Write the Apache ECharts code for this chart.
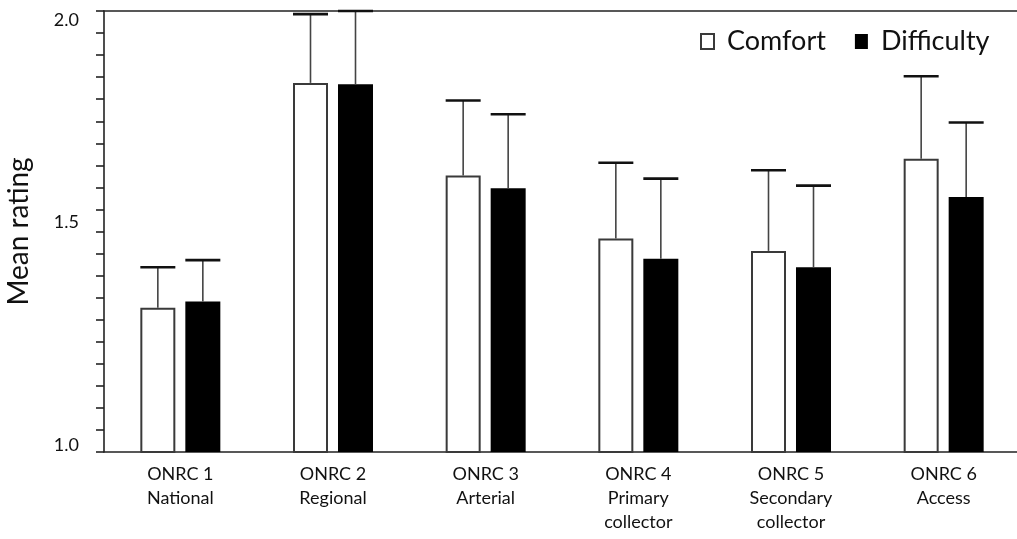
<!DOCTYPE html>
<html>
<head>
<meta charset="utf-8">
<title>Mean rating by ONRC class</title>
<script src="https://cdn.jsdelivr.net/npm/echarts@6/dist/echarts.min.js"></script>
<style>
  html, body { margin: 0; padding: 0; background: #ffffff; }
  #chart { width: 1017px; height: 539px; }
</style>
</head>
<body>
<div id="chart"></div>
<script>
// Road classes (ONRC) on the category axis
const categories = [
  'ONRC 1\nNational',
  'ONRC 2\nRegional',
  'ONRC 3\nArterial',
  'ONRC 4\nPrimary\ncollector',
  'ONRC 5\nSecondary\ncollector',
  'ONRC 6\nAccess'
];

// Mean ratings and upper error-bar lengths
const comfortMean = [1.327, 1.837, 1.627, 1.484, 1.456, 1.665];
const comfortErr = [0.092, 0.156, 0.170, 0.172, 0.183, 0.187];
const difficultyMean = [1.341, 1.834, 1.598, 1.438, 1.419, 1.578];
const difficultyErr = [0.094, 0.166, 0.168, 0.182, 0.185, 0.169];

// Y-axis tick labels
const yTickLabels = ['1.0', '1.5', '2.0'];

const FONT = 'Lato, "Open Sans", sans-serif';
const BAR_W = 35;
const BAR_GAP = 10;
const CAP_W = 35;

function errorSeries(name, means, errs, side) {
  return {
    type: 'custom',
    name: name + ' error',
    data: means.map((m, i) => [i, m, errs[i]]),
    clip: false,
    z: 5,
    silent: true,
    renderItem: function (params, api) {
      const base = api.coord([api.value(0), api.value(1)]);
      const top = api.coord([api.value(0), api.value(1) + api.value(2)]);
      const x = base[0] + side * (BAR_W + BAR_GAP) / 2;
      return {
        type: 'group',
        children: [
          {
            type: 'line',
            shape: { x1: x, y1: base[1], x2: x, y2: top[1] },
            style: { stroke: '#444444', lineWidth: 1.6 }
          },
          {
            type: 'line',
            shape: { x1: x - CAP_W / 2, y1: top[1], x2: x + CAP_W / 2, y2: top[1] },
            style: { stroke: '#111111', lineWidth: 2.6 }
          }
        ]
      };
    }
  };
}

const chart = echarts.init(document.getElementById('chart'), null, { renderer: 'canvas' });

chart.setOption({
  animation: false,
  backgroundColor: '#ffffff',
  grid: {
    left: 104, right: -3, top: 11, bottom: 87,
    containLabel: false,
    outerBoundsMode: 'none'
  },
  legend: {
    left: 695,
    top: 23,
    icon: 'rect',
    itemWidth: 13,
    itemHeight: 15,
    itemGap: 29,
    textStyle: { fontFamily: FONT, fontSize: 27, color: '#111111', padding: [0, 0, 0, 8] },
    data: ['Comfort', 'Difficulty']
  },
  xAxis: [
    {
      type: 'category',
      data: categories,
      axisLine: { show: true, lineStyle: { color: '#222222', width: 1.6 } },
      axisTick: { show: false },
      axisLabel: {
        fontFamily: FONT,
        fontSize: 18,
        lineHeight: 24,
        color: '#111111',
        margin: 10,
        interval: 0
      }
    },
    {
      type: 'category',
      position: 'top',
      data: categories,
      axisLine: { show: true, lineStyle: { color: '#222222', width: 1.6 } },
      axisTick: { show: false },
      axisLabel: { show: false }
    }
  ],
  yAxis: {
    type: 'value',
    min: 1,
    max: 2,
    interval: 0.5,
    name: 'Mean rating',
    nameLocation: 'middle',
    nameRotate: 90,
    nameGap: 71,
    nameTextStyle: { fontFamily: FONT, fontSize: 28, color: '#111111' },
    axisLine: { show: true, lineStyle: { color: '#222222', width: 1.6 } },
    axisTick: { show: true, length: 8, lineStyle: { color: '#222222', width: 1.6 } },
    minorTick: { show: true, splitNumber: 10, length: 8, lineStyle: { color: '#222222', width: 1.6 } },
    splitLine: { show: false },
    axisLabel: {
      fontFamily: FONT,
      fontSize: 18,
      color: '#111111',
      margin: 25,
      formatter: function (v) {
        const idx = Math.round((v - 1) / 0.5);
        const style = ['lo', 'mid', 'hi'][idx];
        return style ? '{' + style + '|' + yTickLabels[idx] + '}' : '';
      },
      rich: {
        lo: { fontFamily: FONT, fontSize: 18, color: '#111111', padding: [0, 0, 14, 0] },
        mid: { fontFamily: FONT, fontSize: 18, color: '#111111', padding: [0, 0, 18, 0] },
        hi: { fontFamily: FONT, fontSize: 18, color: '#111111', padding: [18, 0, 0, 0] }
      }
    }
  },
  series: [
    {
      type: 'bar',
      name: 'Comfort',
      data: comfortMean,
      barWidth: BAR_W,
      barGap: (BAR_GAP / BAR_W * 100).toFixed(2) + '%',
      itemStyle: { color: '#ffffff', borderColor: '#3a3a3a', borderWidth: 2 }
    },
    {
      type: 'bar',
      name: 'Difficulty',
      data: difficultyMean,
      barWidth: BAR_W,
      itemStyle: { color: '#000000' }
    },
    errorSeries('Comfort', comfortMean, comfortErr, -1),
    errorSeries('Difficulty', difficultyMean, difficultyErr, 1)
  ]
});
</script>
</body>
</html>
